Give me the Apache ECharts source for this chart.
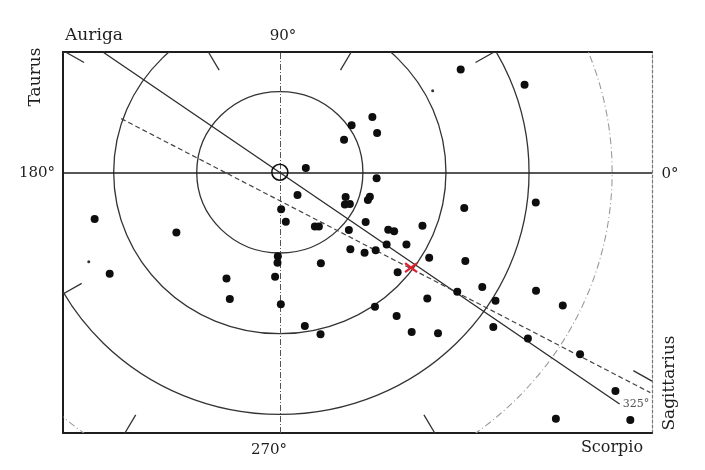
<!DOCTYPE html>
<html><head><meta charset="utf-8">
<script src="https://cdn.jsdelivr.net/npm/echarts@6/dist/echarts.min.js"></script>
<style>html,body{margin:0;padding:0;background:#fff}#c{width:705px;height:470px}</style>
</head><body><div id="c"></div>
<script>
// ---- data (units: rings at 10, 20, 30, 40) ----
const ringRadii = [10, 20, 30];
const outerRingRadii = [40];
const tickLongitudes = [30, 60, 120, 150, 210, 240, 300, 330];
const clusters = [
  [-22.29,-5.78],[-12.45,-7.45],[3.13,0.52],[2.13,-2.82],[7.92,-3.07],[7.83,-3.98],[8.43,-3.94],
  [0.16,-4.57],[0.72,-6.12],[4.22,-6.73],[4.70,-6.73],[8.31,-7.14],[8.64,5.84],[7.73,4.04],
  [11.14,6.86],[11.71,4.87],[11.65,-0.75],[10.84,-3.02],[10.60,-3.42],[10.33,-6.15],[17.17,-6.61],
  [13.05,-7.11],[13.76,-7.30],[12.86,-8.94],[15.24,-8.94],[21.77,12.73],[29.46,10.83],[22.20,-4.43],
  [30.81,-3.76],[-20.48,-12.57],[-6.42,-13.17],[-6.02,-15.71],[-0.24,-10.41],[-0.28,-11.20],
  [-0.57,-12.94],[0.12,-16.34],[4.94,-11.28],[3.01,-19.03],[4.90,-20.06],[8.49,-9.54],[10.20,-9.96],
  [11.54,-9.65],[17.98,-10.58],[14.18,-12.40],[17.75,-15.65],[11.45,-16.67],[14.06,-17.80],
  [15.87,-19.79],[19.04,-19.94],[22.33,-10.99],[24.37,-14.20],[21.36,-14.81],[25.96,-15.93],
  [30.84,-14.68],[34.06,-16.50],[25.70,-19.17],[29.86,-20.58],[36.14,-22.55],[40.40,-27.11],
  [33.23,-30.52],[42.19,-30.68]
];
const faintObjects = [[18.4,10.1],[-23.0,-11.1]];
const sunPosition = [[0,0]];
const systemCentre = [[15.8,-11.8]];
const line325 = [[-21.3,14.9],[40.9,-28.7]];
const dashedLine = [[-19.1,6.65],[44.6,-27.3]];

const X_MIN = -26.1, X_MAX = 44.8, Y_MIN = -32.3, Y_MAX = 14.9;
const INK = '#1e1e1e';
const SERIF = '"DejaVu Serif", "Liberation Serif", serif';

function ringItem(stroke, width, dash) {
  return function (params, api) {
    const r = api.value(0);
    const c = api.coord([0, 0]);
    const s = api.size([r, r]);
    return {
      type: 'ellipse',
      shape: { cx: c[0], cy: c[1], rx: s[0], ry: s[1] },
      style: { fill: 'none', stroke: stroke, lineWidth: width, lineDash: dash || null }
    };
  };
}

const chart = echarts.init(document.getElementById('c'));
const axisBase = { type: 'value', min: X_MIN, max: X_MAX, axisTick: {show:false}, axisLabel: {show:false}, splitLine: {show:false} };
chart.setOption({
  animation: false,
  backgroundColor: '#fff',
  grid: { left: 63, right: 53, top: 52, bottom: 37 },
  xAxis: [
    Object.assign({}, axisBase, { position: 'bottom', axisLine: { show: true, onZero: false, lineStyle: { color: INK, width: 2 } } }),
    Object.assign({}, axisBase, { position: 'top', axisLine: { show: true, onZero: false, lineStyle: { color: INK, width: 2 } } })
  ],
  yAxis: [
    Object.assign({}, axisBase, { min: Y_MIN, max: Y_MAX, position: 'left', axisLine: { show: true, onZero: false, lineStyle: { color: INK, width: 2 } } }),
    Object.assign({}, axisBase, { min: Y_MIN, max: Y_MAX, position: 'right', axisLine: { show: true, onZero: false, lineStyle: { color: '#777', width: 1.2, type: [3, 2] } } })
  ],
  series: [
    { type: 'custom', clip: true, renderItem: ringItem('#333', 1.3), data: ringRadii.map(r => [r]), z: 1, silent: true },
    { type: 'custom', clip: true, renderItem: ringItem('#9a9a9a', 1.1, [7, 3, 1, 3]), data: outerRingRadii.map(r => [r]), z: 1, silent: true },
    {
      type: 'custom', clip: true, z: 2, silent: true,
      data: tickLongitudes.map(a => [a]),
      renderItem: function (params, api) {
        const a = api.value(0) * Math.PI / 180;
        const c = Math.cos(a), s = Math.sin(a);
        const tx = c > 1e-9 ? X_MAX / c : (c < -1e-9 ? X_MIN / c : Infinity);
        const ty = s > 1e-9 ? Y_MAX / s : (s < -1e-9 ? Y_MIN / s : Infinity);
        const t = Math.min(tx, ty);
        const p1 = api.coord([t * c, t * s]);
        const p2 = api.coord([(t - 2.6) * c, (t - 2.6) * s]);
        return { type: 'line', shape: { x1: p1[0], y1: p1[1], x2: p2[0], y2: p2[1] }, style: { stroke: '#333', lineWidth: 1.3 } };
      }
    },
    {
      type: 'line', data: [], silent: true,
      markLine: {
        silent: true, symbol: 'none', label: { show: false }, animation: false,
        data: [
          { yAxis: 0, lineStyle: { color: INK, width: 1.6, type: 'solid' } },
          { xAxis: 0, lineStyle: { color: '#555', width: 1, type: [6, 2, 1, 2] } }
        ]
      }
    },
    { type: 'line', data: line325, symbol: 'none', clip: true, z: 3, lineStyle: { color: '#2a2a2a', width: 1.3 } },
    { type: 'line', data: dashedLine, symbol: 'none', clip: true, z: 3, lineStyle: { color: '#444', width: 1.2, type: [5, 3] } },
    { type: 'scatter', data: clusters, symbolSize: 8, z: 5, itemStyle: { color: '#0e0e0e', opacity: 1 } },
    { type: 'scatter', data: faintObjects, symbolSize: 3, z: 5, itemStyle: { color: '#333', opacity: 1 } },
    { type: 'scatter', data: sunPosition, symbolSize: 16, z: 6, itemStyle: { color: 'rgba(0,0,0,0)', borderColor: '#111', borderWidth: 1.6, opacity: 1 } },
    {
      type: 'custom', z: 7, data: systemCentre,
      renderItem: function (params, api) {
        const p = api.coord([api.value(0), api.value(1)]);
        const w = 6, h = 4.5;
        const st = { stroke: '#e0202a', lineWidth: 2.2 };
        return { type: 'group', children: [
          { type: 'line', shape: { x1: p[0] - w, y1: p[1] - h, x2: p[0] + w, y2: p[1] + h }, style: st },
          { type: 'line', shape: { x1: p[0] - w, y1: p[1] + h, x2: p[0] + w, y2: p[1] - h }, style: st }
        ] };
      }
    }
  ],
  graphic: [
    { type: 'text', x: 94, y: 36, style: { text: 'Auriga', font: '17px ' + SERIF, fill: INK, textAlign: 'center', textVerticalAlign: 'middle' } },
    { type: 'text', x: 283, y: 36, style: { text: '90°', font: '15px ' + SERIF, fill: INK, textAlign: 'center', textVerticalAlign: 'middle' } },
    { type: 'text', x: 36, y: 77, rotation: Math.PI / 2, style: { text: 'Taurus', font: '17px ' + SERIF, fill: INK, textAlign: 'center', textVerticalAlign: 'middle' } },
    { type: 'text', x: 37, y: 173, style: { text: '180°', font: '15px ' + SERIF, fill: INK, textAlign: 'center', textVerticalAlign: 'middle' } },
    { type: 'text', x: 670, y: 174, style: { text: '0°', font: '15px ' + SERIF, fill: INK, textAlign: 'center', textVerticalAlign: 'middle' } },
    { type: 'text', x: 269, y: 450, style: { text: '270°', font: '15px ' + SERIF, fill: INK, textAlign: 'center', textVerticalAlign: 'middle' } },
    { type: 'text', x: 612, y: 448, style: { text: 'Scorpio', font: '16px ' + SERIF, fill: INK, textAlign: 'center', textVerticalAlign: 'middle' } },
    { type: 'text', x: 670, y: 383, rotation: Math.PI / 2, style: { text: 'Sagittarius', font: '17px ' + SERIF, fill: INK, textAlign: 'center', textVerticalAlign: 'middle' } },
    { type: 'text', x: 636, y: 404, style: { text: '325°', font: '11px ' + SERIF, fill: '#555', textAlign: 'center', textVerticalAlign: 'middle' } }
  ]
});
</script></body></html>
